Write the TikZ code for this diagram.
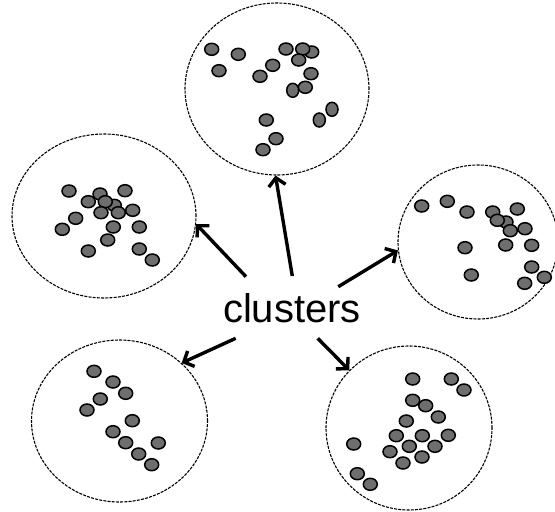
\documentclass[tikz,border=0pt]{standalone}
\usepackage{fontspec}
\setmainfont{Liberation Sans}
\usetikzlibrary{shapes.geometric,arrows.meta}
\definecolor{dotgray}{HTML}{6E6E6E}
\begin{document}
\begin{tikzpicture}[x=1pt,y=-1pt,
  clus/.style={ellipse,draw,dash pattern=on 3pt off 1.2pt,line width=1.1pt,inner sep=0pt},
  dot/.style={ellipse,draw=black,fill=dotgray,line width=1.5pt,minimum width=14pt,minimum height=12pt,inner sep=0pt},
  vdot/.style={dot,minimum width=12pt,minimum height=14pt},
  arr/.style={line width=3.4pt,-{Straight Barb[length=8pt,width=17pt]}}]
\useasboundingbox (0,0) rectangle (555,512);
% cluster outlines
\node[clus,minimum width=184pt,minimum height=172pt] (cT) at (277,89) {};
\node[clus,minimum width=184pt,minimum height=164pt] (cL) at (104,216) {};
\node[clus,minimum width=160pt,minimum height=154pt] (cR) at (478,242) {};
\node[clus,minimum width=176pt,minimum height=162pt] (cBL) at (119.5,421) {};
\node[clus,minimum width=166pt,minimum height=164pt] (cBR) at (409,428) {};
% top cluster dots
\foreach \x/\y [count=\i] in {211.7/49.3,238.3/54.3,219/70.7,260/76.3,272.7/65.3,286/49,311.7/52,302.7/49,298.7/60,311/73.7,305.3/87.3,266.3/120,276/138.7,263/149.7}
  \node[dot] (t\i) at (\x,\y) {};
\foreach \x/\y [count=\i] in {292.7/90.3,332/109.3,319.3/120}
  \node[vdot] (tv\i) at (\x,\y) {};
% left cluster dots
\foreach \x/\y [count=\i] in {69/191,125/190.7,114.3/205.3,100/194,88.3/201.7,105.3/201.7,101/212.7,118.3/212.7,132.7/210.3,75.7/218.3,62.3/229.3,113.3/227,139.3/227,107.7/240,88.3/251,139.3/249,152.3/260}
  \node[dot] (l\i) at (\x,\y) {};
% right cluster dots
\foreach \x/\y [count=\i] in {421.7/206,447.3/201.3,467/212,517.3/209,492.7/212,506/222,497.3/220.3,510.3/230.7,525/228.7,465/247.7,505.7/245,531.7/245.3,531.7/267,544.3/277.3,524.7/283.3,471.3/275}
  \node[dot] (r\i) at (\x,\y) {};
% bottom-left cluster dots
\foreach \x/\y [count=\i] in {94/371.3,113/382,125.7/393.3,100.3/399,87/410,132.3/420.7,113/431.7,125.7/442.7,158.3/443,138.7/454,151.7/464.7}
  \node[dot] (bl\i) at (\x,\y) {};
% bottom-right cluster dots
\foreach \x/\y [count=\i] in {412.7/379,451.3/379,464/390,412.7/400.3,425.7/405.7,438.3/417,406.3/421,396.3/435.7,422.3/435.7,448.3/435.3,409.3/446.3,435/446.3,353.7/444,390/451.7,422/457,403/463,357.3/473.7,370.3/484.3}
  \node[dot] (br\i) at (\x,\y) {};
% label
\node (lab) at (292,308) {\fontsize{40}{48}\selectfont clusters};
% arrow start points
\coordinate (sL) at (246,276.7);
\coordinate (sT) at (292.3,276);
\coordinate (sR) at (338.3,286.7);
\coordinate (sBL) at (235.7,338.3);
\coordinate (sBR) at (317.7,338.3);
\draw[arr] (sL) -- (cL.-5);
\draw[arr] (sT) -- (cT.269);
\draw[arr] (sR) -- (cR.186);
\draw[arr] (sBL) -- (cBL.43.6);
\draw[arr] (sBR) -- (cBR.136.5);
\end{tikzpicture}
\end{document}
